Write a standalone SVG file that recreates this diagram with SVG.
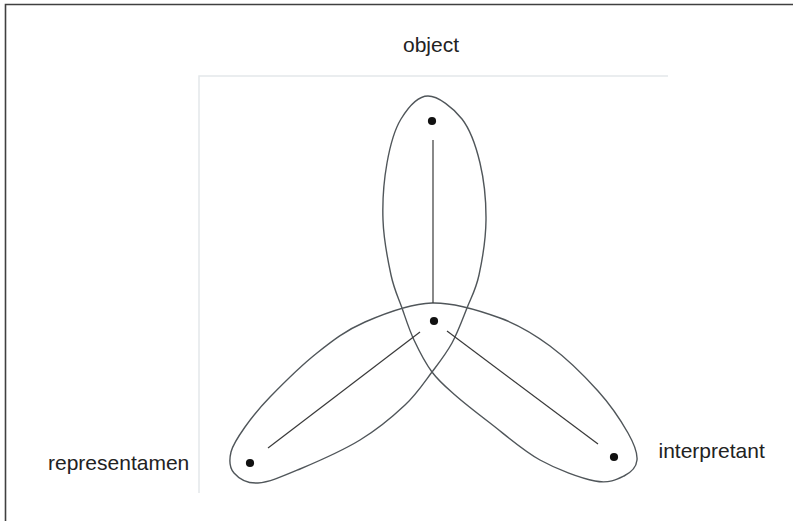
<svg xmlns="http://www.w3.org/2000/svg" width="793" height="521" viewBox="0 0 793 521">
<style>
.frame{fill:none;stroke:#404040;stroke-width:1.6}
.inner{fill:none;stroke:#e4e8ea;stroke-width:1.5}
.loop{fill:none;stroke:#50565a;stroke-width:1.4}
.conn{stroke:#3a3a3a;stroke-width:1.2;fill:none}
.dot{fill:#111}
.lbl{font-family:"Liberation Sans",Arial,sans-serif;font-size:21px;fill:#222}
</style>
<rect x="0" y="0" width="793" height="521" fill="#fff"/>
<path class="frame" d="M5.5,530 V4.5 H800"/>
<path class="inner" d="M199,493 V76 H668"/>
<g id="trefoil">
<path class="loop" d="M428,96 C438.17,96 453.33,107.83 462,119 C470.67,130.17 476,146.17 480,163 C484,179.83 486.17,201.33 486,220 C485.83,238.67 482.17,260.33 479,275 C475.83,289.67 471.5,296.67 467,308 C462.5,319.33 457.830,332.33 452,343 C446.17,353.67 439.83,361.67 432,372 C424.17,382.33 417,393.67 405,405 C393,416.33 377.5,429.33 360,440 C342.5,450.67 317,461.83 300,469 C283,476.17 269,482.33 258,483 C247,483.67 238.5,478.17 234,473 C229.5,467.83 229.17,459.67 231,452 C232.83,444.33 238.5,436.17 245,427 C251.5,417.83 258,409.33 270,397 C282,384.67 301.17,365.5 317,353 C332.83,340.5 345.83,330.33 365,322 C384.17,313.67 409.5,303.67 432,303 C454.5,302.33 480.33,310.83 500,318 C519.67,325.17 533.67,333.83 550,346 C566.33,358.17 585,376.5 598,391 C611,405.5 621.5,421.5 628,433 C634.5,444.5 637.67,452.83 637,460 C636.33,467.17 631,472.5 624,476 C617,479.5 609,483.67 595,481 C581,478.33 557.5,469.67 540,460 C522.5,450.33 504.17,433.83 490,423 C475.83,412.17 464.67,403.5 455,395 C445.33,386.5 438.83,381.17 432,372 C425.17,362.83 419,350.67 414,340 C409,329.33 405.83,318.83 402,308 C398.17,297.17 394.17,289.67 391,275 C387.83,260.33 383.67,238.67 383,220 C382.33,201.33 384,179.83 387,163 C390,146.17 394.17,130.17 401,119 C407.83,107.83 417.83,96 428,96 Z"/>
</g>
<g id="connectors">
<line class="conn" x1="433" y1="140" x2="433" y2="303"/>
<line class="conn" x1="420" y1="332" x2="268" y2="448"/>
<line class="conn" x1="447" y1="331" x2="598" y2="444"/>
</g>
<g id="node-center"><circle class="dot" cx="434" cy="321" r="4.1"/></g>
<g id="node-object"><circle class="dot" cx="432" cy="121" r="4.1"/><text class="lbl" x="431" y="52" text-anchor="middle">object</text></g>
<g id="node-representamen"><circle class="dot" cx="250" cy="463" r="4.1"/><text class="lbl" x="48" y="470">representamen</text></g>
<g id="node-interpretant"><circle class="dot" cx="614" cy="457" r="4.1"/><text class="lbl" x="658.5" y="458">interpretant</text></g>
</svg>
